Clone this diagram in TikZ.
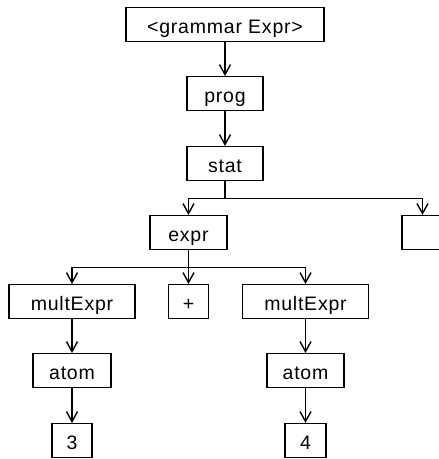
\documentclass[tikz,border=0pt]{standalone}
\usepackage{fontspec}
\newfontfamily\treefont[LetterSpace=4]{Liberation Sans}
\usetikzlibrary{arrows.meta}
\begin{document}
\begin{tikzpicture}[x=1pt,y=-1pt,line width=1.4pt,
        box/.style={draw,inner sep=0pt,anchor=north,text height=26pt,text depth=8pt,
            font=\treefont\fontsize{19.5}{21}\selectfont},
        edge/.style={-{Straight Barb[length=10pt,width=11pt]}}]
        \useasboundingbox (0,0) rectangle (439,459);
        \clip (0,0) rectangle (439,459);
        % Top chain
        \node[box,minimum width=198pt] (gram) at (225,7) {<grammar Expr>};
        \node[box,minimum width=76pt] (prog) at (225,76) {prog};
        \node[box,minimum width=76pt] (stat) at (225,146) {stat};
        % Second level
        \node[box,minimum width=77pt] (expr) at (188.5,215) {expr};
        \node[box,minimum width=41pt] (semi) at (422.5,215) {};
        % Third level
        \node[box,minimum width=126pt] (multl) at (72,284) {multExpr};
        \node[box,minimum width=40pt] (plus) at (188.5,284) {+};
        \node[box,minimum width=126pt] (multr) at (305.5,284) {multExpr};
        \node[box,minimum width=78pt] (atoml) at (72,353) {atom};
        \node[box,minimum width=77pt] (atomr) at (305.5,353) {atom};
        \node[box,minimum width=40pt] (three) at (72,423) {3};
        \node[box,minimum width=41pt] (four) at (305.5,423) {4};
        % Edges
        \draw[edge] (gram) -- (prog);
        \draw[edge] (prog) -- (stat);
        \draw (stat.south) -- ++(0,17) coordinate (statbus);
        \draw[edge] (statbus) -| (expr.north);
        \draw[edge] (statbus) -| (semi.north);
        \draw (expr.south) -- ++(0,17) coordinate (exprbus);
        \draw[edge] (exprbus) -| (multl.north);
        \draw[edge] (exprbus) -- (plus.north);
        \draw[edge] (exprbus) -| (multr.north);
        \draw[edge] (multl) -- (atoml);
        \draw[edge] (atoml) -- (three);
        \draw[edge] (multr) -- (atomr);
        \draw[edge] (atomr) -- (four);
    \end{tikzpicture}
\end{document}
